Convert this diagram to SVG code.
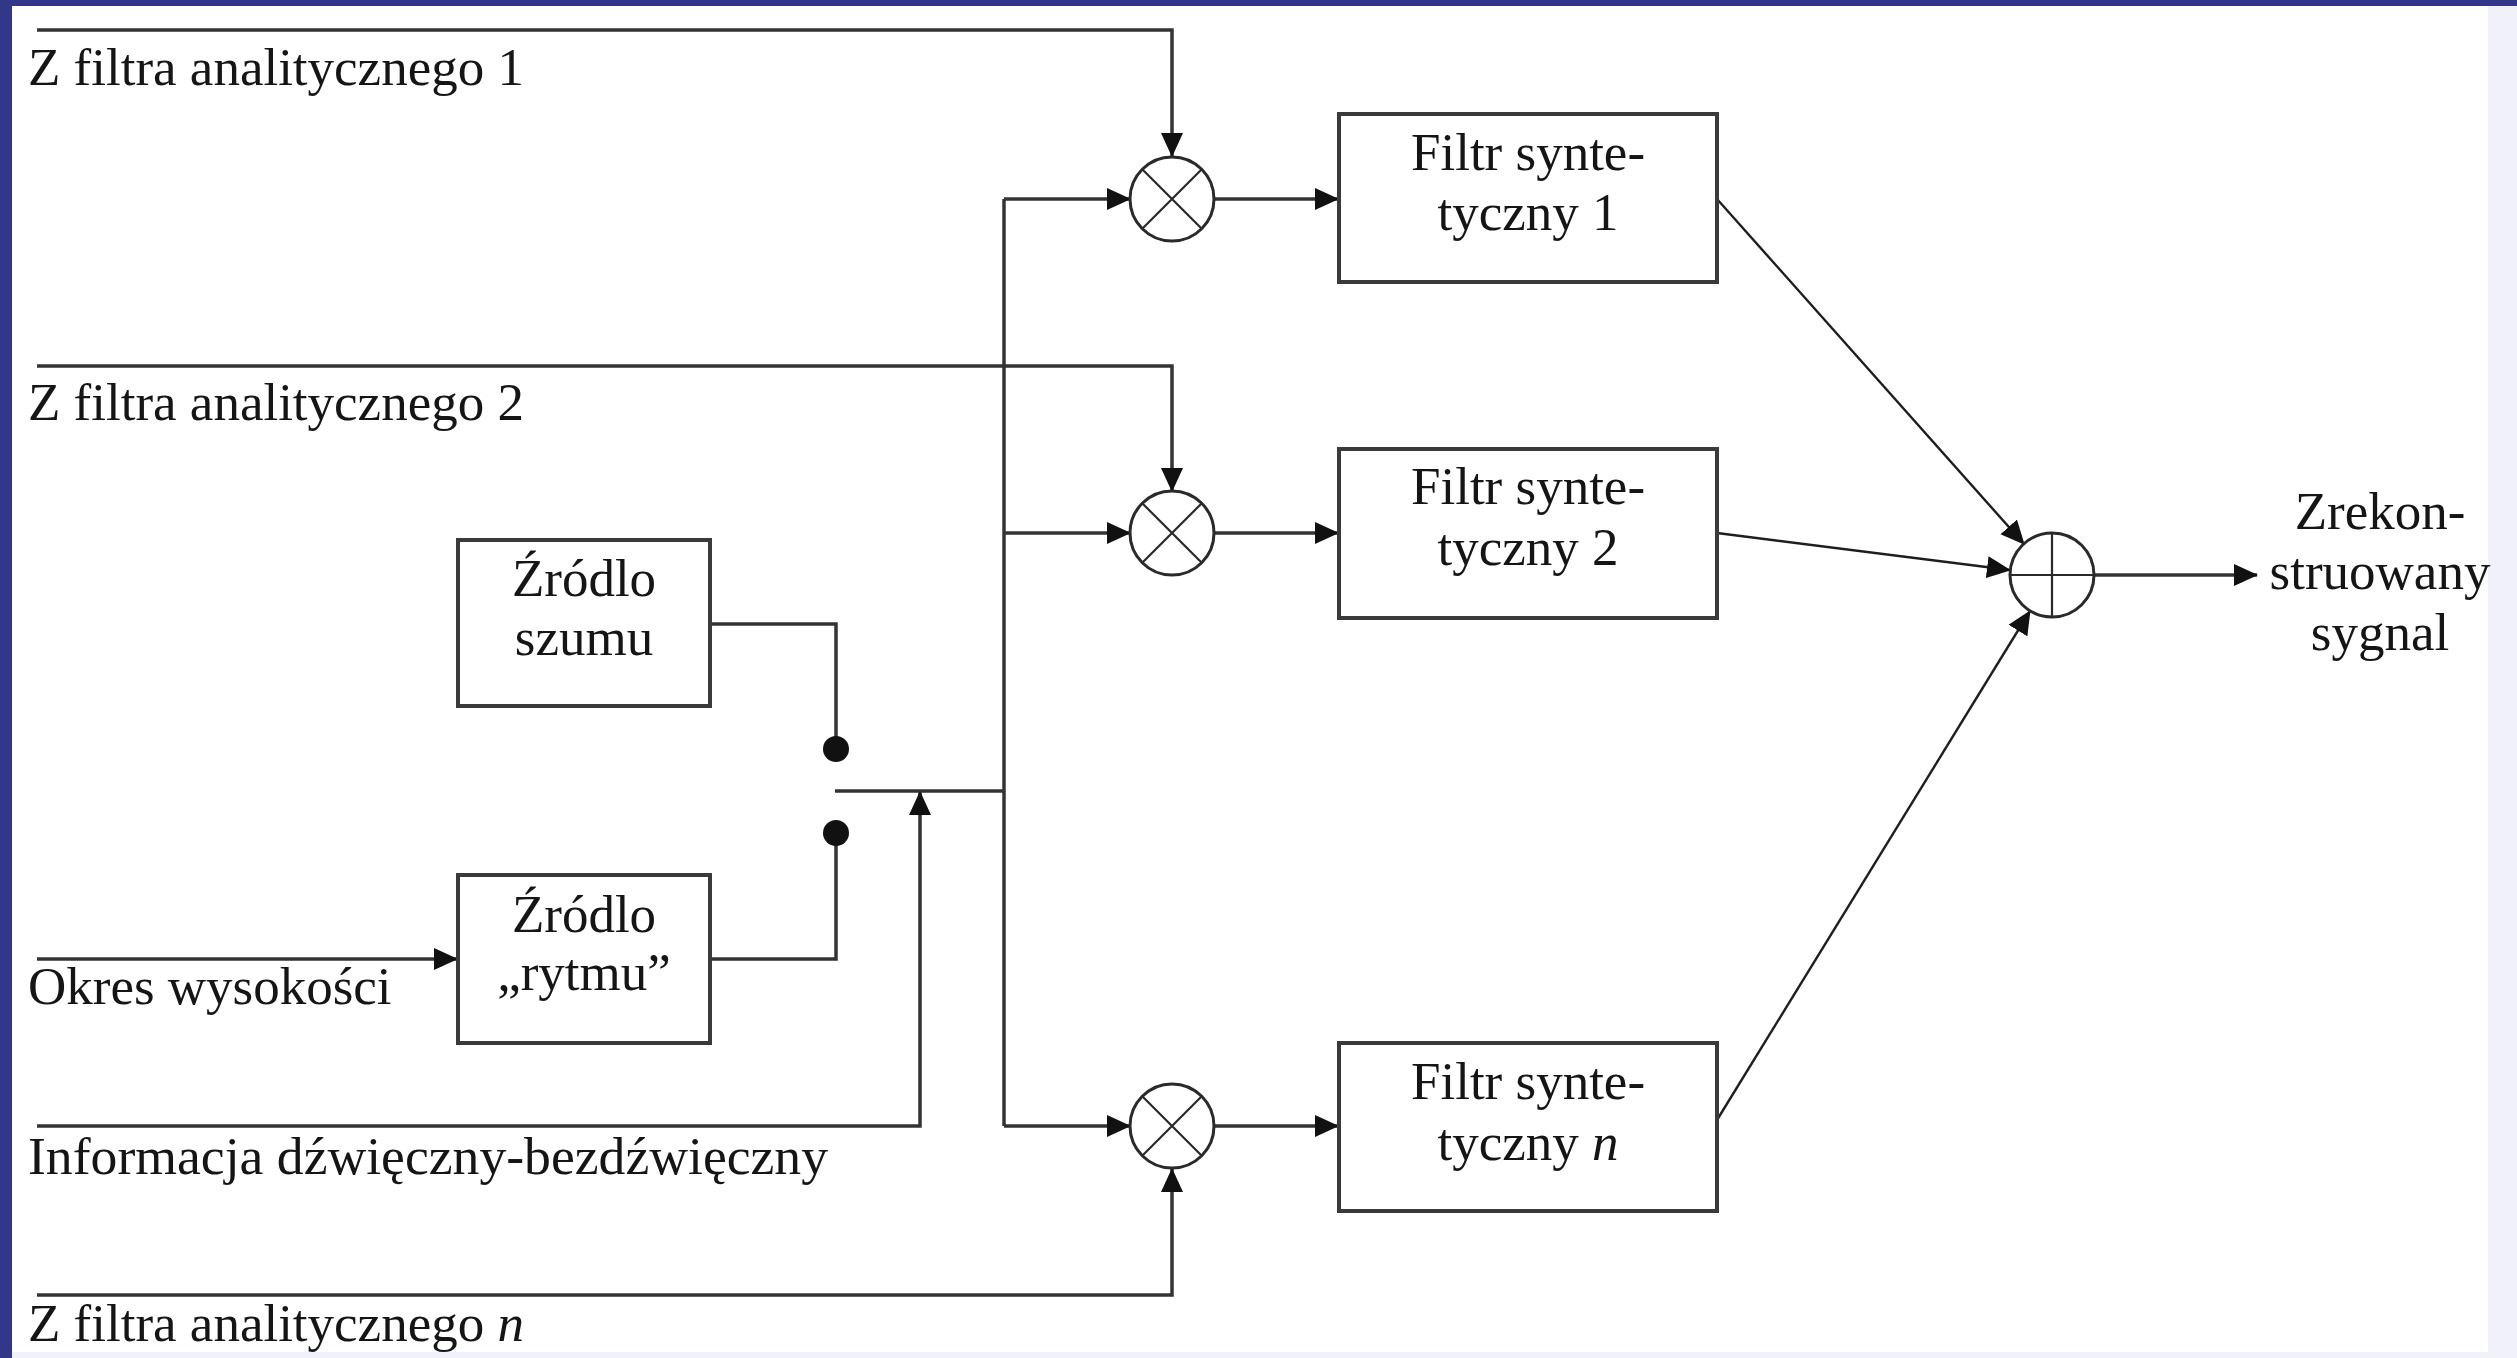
<svg xmlns="http://www.w3.org/2000/svg" width="2517" height="1358" viewBox="0 0 2517 1358">
<style>
text{font-family:"Liberation Serif","Times New Roman",serif;font-size:53px;fill:#151515}
.c{text-anchor:middle}
.box{fill:none;stroke:#3a3a3a;stroke-width:4}
.ln{fill:none;stroke:#333;stroke-width:3.5}
.dg{fill:none;stroke:#1e1e1e;stroke-width:2.4}
.op{fill:#fff;stroke:#2a2a2a;stroke-width:3}
.x{stroke:#2a2a2a;stroke-width:2.2}
</style>
<defs>
<marker id="ah" markerUnits="userSpaceOnUse" markerWidth="24" markerHeight="24" viewBox="0 0 24 24" refX="23" refY="12" orient="auto">
<path d="M0,1 L24,12 L0,23 Z" fill="#111"/>
</marker>
</defs>
<rect x="0" y="0" width="2517" height="1358" fill="#f1f1fa"/>
<rect x="12" y="6" width="2476" height="1346" fill="#fff"/>
<rect x="0" y="0" width="2517" height="6" fill="#33378a"/>
<rect x="0" y="0" width="12" height="1358" fill="#33378a"/>

<g id="connectors">
<path class="ln" d="M37,30 H1172 V156" marker-end="url(#ah)"/>
<path class="ln" d="M37,366 H1172 V491" marker-end="url(#ah)"/>
<path class="ln" d="M1004,199 V1126"/>
<path class="ln" d="M1004,199 H1130" marker-end="url(#ah)"/>
<path class="ln" d="M1004,533 H1130" marker-end="url(#ah)"/>
<path class="ln" d="M1004,1126 H1130" marker-end="url(#ah)"/>
<path class="ln" d="M835,791 H1004"/>
<path class="ln" d="M37,1126 H920 V792" marker-end="url(#ah)"/>
<path class="ln" d="M710,624 H836 V749"/>
<path class="ln" d="M710,959 H836 V833"/>
<path class="ln" d="M37,959 H457" marker-end="url(#ah)"/>
<path class="ln" d="M37,1295 H1172 V1169" marker-end="url(#ah)"/>
<path class="ln" d="M1214,199 H1338" marker-end="url(#ah)"/>
<path class="ln" d="M1214,533 H1338" marker-end="url(#ah)"/>
<path class="ln" d="M1214,1126 H1338" marker-end="url(#ah)"/>
<path class="dg" d="M1717,199 L2024,544" marker-end="url(#ah)"/>
<path class="dg" d="M1717,533 L2010,570" marker-end="url(#ah)"/>
<path class="dg" d="M1717,1120 L2030,611" marker-end="url(#ah)"/>
<path class="ln" d="M2094,575 H2257" marker-end="url(#ah)"/>
<circle cx="836" cy="749" r="13" fill="#111"/>
<circle cx="836" cy="833" r="13" fill="#111"/>
</g>

<g id="mult1">
<circle class="op" cx="1172" cy="199" r="42"/>
<path class="x" d="M1142,169 L1202,229 M1202,169 L1142,229"/>
</g>
<g id="mult2">
<circle class="op" cx="1172" cy="533" r="42"/>
<path class="x" d="M1142,503 L1202,563 M1202,503 L1142,563"/>
</g>
<g id="multn">
<circle class="op" cx="1172" cy="1126" r="42"/>
<path class="x" d="M1142,1096 L1202,1156 M1202,1096 L1142,1156"/>
</g>
<g id="sum">
<circle class="op" cx="2052" cy="575" r="42"/>
<path class="x" d="M2052,533 V617 M2010,575 H2094"/>
</g>

<g id="filtr1">
<rect class="box" x="1339" y="114" width="378" height="168"/>
<text class="c" x="1528" y="170">Filtr synte-</text>
<text class="c" x="1528" y="230">tyczny 1</text>
</g>
<g id="filtr2">
<rect class="box" x="1339" y="449" width="378" height="169"/>
<text class="c" x="1528" y="504">Filtr synte-</text>
<text class="c" x="1528" y="565">tyczny 2</text>
</g>
<g id="filtrn">
<rect class="box" x="1339" y="1043" width="378" height="168"/>
<text class="c" x="1528" y="1099">Filtr synte-</text>
<text class="c" x="1528" y="1160">tyczny <tspan font-style="italic">n</tspan></text>
</g>
<g id="szum">
<rect class="box" x="458" y="540" width="252" height="166"/>
<text class="c" x="584" y="596">Źródlo</text>
<text class="c" x="584" y="655">szumu</text>
</g>
<g id="rytm">
<rect class="box" x="458" y="875" width="252" height="168"/>
<text class="c" x="584" y="932">Źródlo</text>
<text class="c" x="584" y="990">„rytmu”</text>
</g>

<g id="labels">
<text x="28" y="85">Z filtra analitycznego 1</text>
<text x="28" y="420">Z filtra analitycznego 2</text>
<text x="28" y="1004">Okres wysokości</text>
<text x="28" y="1174" textLength="800" lengthAdjust="spacingAndGlyphs">Informacja dźwięczny-bezdźwięczny</text>
<text x="28" y="1341">Z filtra analitycznego <tspan font-style="italic">n</tspan></text>
<text class="c" x="2380" y="529">Zrekon-</text>
<text class="c" x="2380" y="589">struowany</text>
<text class="c" x="2380" y="650">sygnal</text>
</g>
</svg>
